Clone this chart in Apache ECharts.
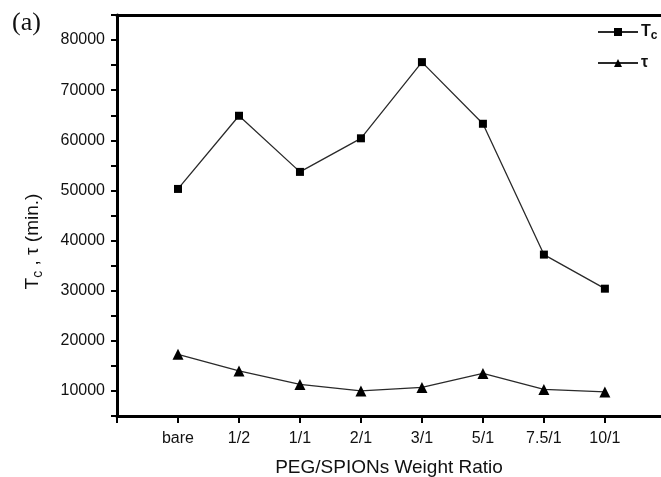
<!DOCTYPE html>
<html>
<head>
<meta charset="utf-8">
<script src="https://cdn.jsdelivr.net/npm/echarts@6/dist/echarts.min.js"></script>
<style>html,body{margin:0;padding:0;background:#fff;}#c{width:661px;height:477px;}</style>
</head>
<body>
<div id="c"></div>
<script>
const categories = ['bare', '1/2', '1/1', '2/1', '3/1', '5/1', '7.5/1', '10/1'];
const tcValues = [50300, 64900, 53700, 60400, 75600, 63300, 37200, 30400];
const tauValues = [17300, 14000, 11300, 10000, 10700, 13500, 10300, 9800];
const yTicks = [10000, 20000, 30000, 40000, 50000, 60000, 70000, 80000];
const xTickPositions = [0, 1, 2, 3, 4, 5, 6, 7, 8];

const font = '"Liberation Sans", Arial, sans-serif';
const chart = echarts.init(document.getElementById('c'));
const toPairs = arr => arr.map((v, i) => [i + 1, v]);

chart.setOption({
  animation: false,
  backgroundColor: '#fff',
  graphic: [{
    type: 'text', left: 12, top: 10,
    style: { text: '(a)', font: '26px "Liberation Serif", "Times New Roman", serif', fill: '#111' }
  }],
  legend: {
    orient: 'vertical', left: 597, top: 24, padding: 0, itemGap: 13, itemWidth: 40, itemHeight: 10,
    data: ['Tc', 'τ'],
    formatter: n => n === 'Tc' ? '{a|T}{b|c}' : '{a|τ}',
    textStyle: {
      padding: [0, 0, 0, -2],
      rich: {
        a: { fontFamily: font, fontSize: 16, fontWeight: 'bold', color: '#111' },
        b: { fontFamily: font, fontSize: 12, fontWeight: 'bold', color: '#111', padding: [8, 0, 0, 0] }
      }
    }
  },
  grid: { left: 117, top: 15, right: 0, bottom: 61, outerBoundsMode: 'none' },
  xAxis: [{
    type: 'value', min: 0, max: 8.92,
    name: 'PEG/SPIONs Weight Ratio', nameLocation: 'middle', nameGap: 42,
    nameTextStyle: { fontFamily: font, fontSize: 19, color: '#111' },
    axisLine: { lineStyle: { color: '#000', width: 3 } },
    axisTick: { show: true, length: 7, customValues: xTickPositions, lineStyle: { color: '#000', width: 2 } },
    splitLine: { show: false },
    axisLabel: {
      fontFamily: font, fontSize: 16, color: '#111', margin: 15,
      customValues: [1, 2, 3, 4, 5, 6, 7, 8],
      formatter: v => categories[Math.round(v) - 1] || ''
    }
  }, {
    type: 'value', position: 'top', min: 0, max: 8.92,
    axisLine: { show: true, lineStyle: { color: '#000', width: 3 } },
    axisTick: { show: false }, axisLabel: { show: false }, splitLine: { show: false }
  }],
  yAxis: {
    type: 'value', min: 5000, max: 85000, interval: 5000,
    name: '{a|T}{b|c}{a| , τ (min.)}', nameLocation: 'middle', nameGap: 72, nameRotate: 90,
    nameTextStyle: {
      padding: [0, 52, 0, 0],
      rich: {
        a: { fontFamily: font, fontSize: 19, color: '#111' },
        b: { fontFamily: font, fontSize: 14, color: '#111', padding: [11, 0, 0, 0] }
      }
    },
    axisLine: { show: true, lineStyle: { color: '#000', width: 3 } },
    axisTick: { show: true, length: 6, lineStyle: { color: '#000', width: 2 } },
    splitLine: { show: false },
    axisLabel: {
      fontFamily: font, fontSize: 16, color: '#111', margin: 12,
      formatter: v => yTicks.indexOf(v) >= 0 ? String(v) : ''
    }
  },
  series: [
    {
      name: 'Tc', type: 'line', data: toPairs(tcValues),
      symbol: 'rect', symbolSize: 8,
      lineStyle: { color: '#2a2a2a', width: 1.3 }, itemStyle: { color: '#000' }
    },
    {
      name: 'τ', type: 'line', data: toPairs(tauValues),
      symbol: 'triangle', symbolSize: 11,
      lineStyle: { color: '#2a2a2a', width: 1.3 }, itemStyle: { color: '#000' }
    }
  ]
});
</script>
</body>
</html>
